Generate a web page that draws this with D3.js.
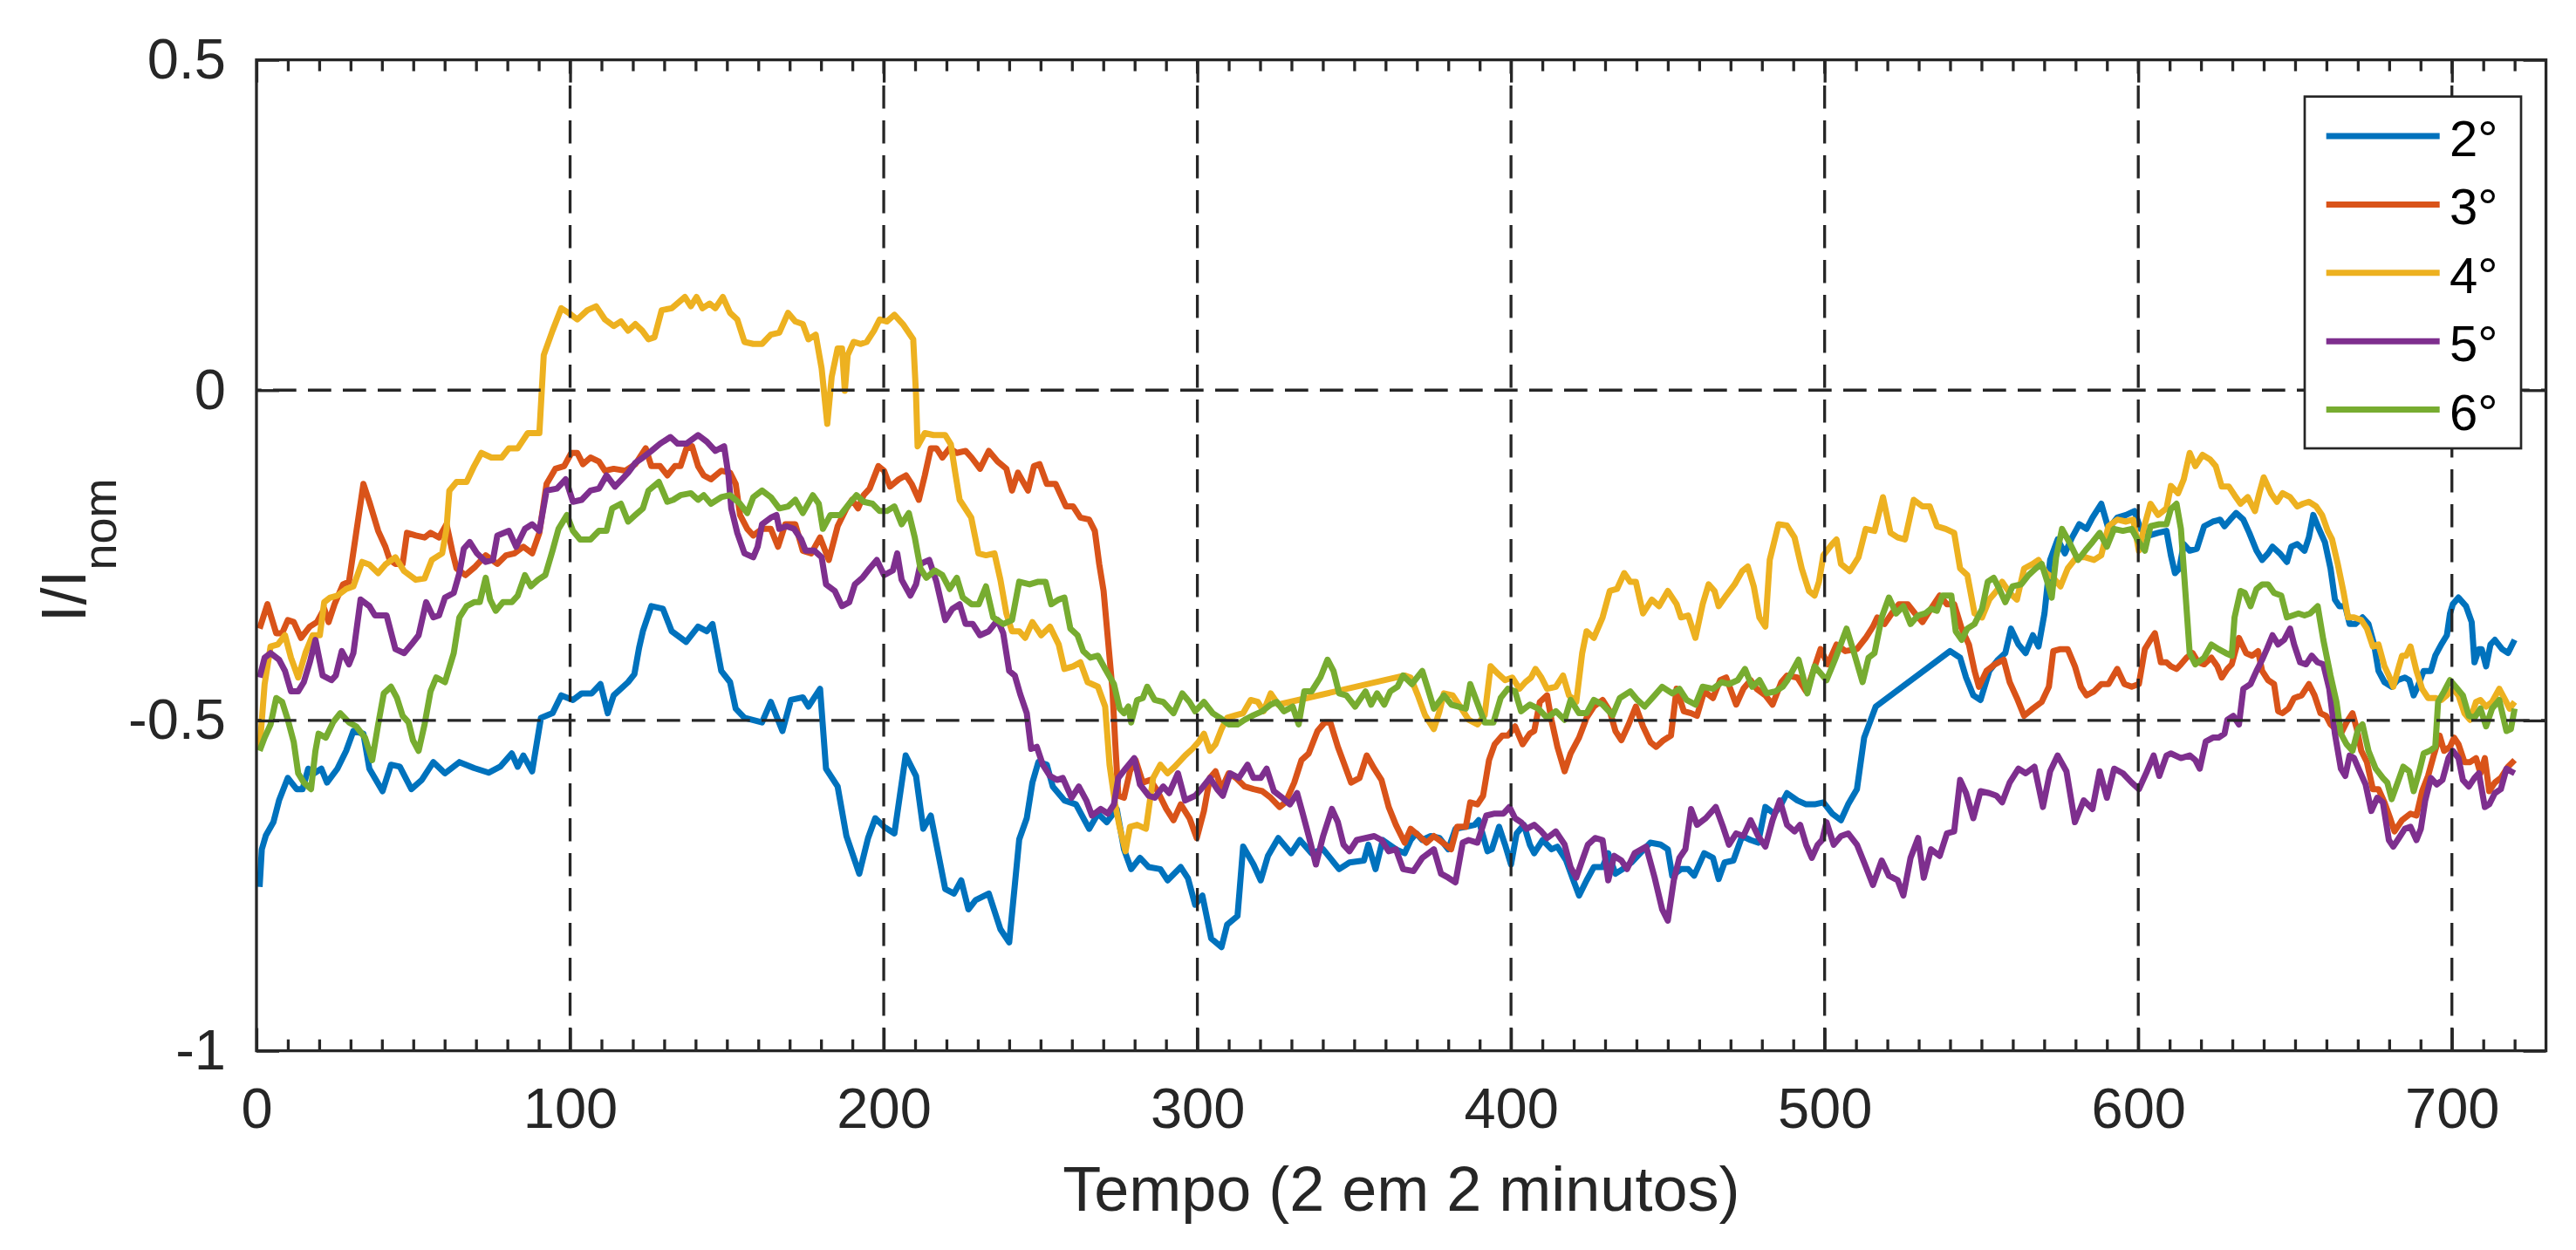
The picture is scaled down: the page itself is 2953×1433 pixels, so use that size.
<!DOCTYPE html>
<html>
<head>
<meta charset="utf-8">
<script src="https://d3js.org/d3.v7.min.js"></script>
<style>
  body{margin:0;background:#fff}
  text{font-family:'Liberation Sans',Arial,Helvetica,sans-serif}
</style>
</head>
<body>
<script>
// values, [tempo, I/Inom]
const serie2 = [[1,-0.752],[1.7,-0.695],[3,-0.674],[5.4,-0.654],[7.2,-0.621],[10,-0.587],[12.8,-0.604],[14.7,-0.604],[16.5,-0.573],[18.4,-0.58],[20.7,-0.573],[22.5,-0.594],[25.8,-0.573],[28.6,-0.546],[30.9,-0.516],[34.1,-0.52],[36,-0.573],[40.2,-0.607],[42.9,-0.567],[45.7,-0.57],[49.4,-0.604],[52.7,-0.59],[56.4,-0.563],[60.1,-0.58],[64.7,-0.563],[69.4,-0.572],[74,-0.579],[77.7,-0.57],[81.4,-0.55],[83.3,-0.57],[85.1,-0.553],[87.9,-0.577],[90.7,-0.496],[94.4,-0.489],[97.2,-0.462],[100.9,-0.469],[103.7,-0.459],[106.9,-0.459],[109.7,-0.445],[112,-0.489],[113.9,-0.462],[118.5,-0.442],[120.5,-0.43],[122,-0.39],[123.2,-0.365],[125.9,-0.327],[129.6,-0.331],[132.4,-0.365],[137,-0.381],[140.8,-0.358],[143.6,-0.365],[145.4,-0.354],[148.2,-0.425],[151,-0.442],[152.8,-0.482],[155.6,-0.496],[161.2,-0.503],[164,-0.472],[167.7,-0.516],[170.4,-0.469],[174.2,-0.465],[176,-0.479],[179.7,-0.452],[181.6,-0.573],[185.3,-0.6],[188.1,-0.675],[192.2,-0.732],[195,-0.678],[197.3,-0.648],[200.1,-0.661],[203.4,-0.671],[207,-0.553],[210.3,-0.584],[212.6,-0.664],[215,-0.644],[219.6,-0.755],[222.4,-0.762],[224.7,-0.742],[227,-0.786],[229.3,-0.772],[233.5,-0.762],[237.2,-0.816],[240,-0.836],[241.8,-0.749],[243.2,-0.68],[245.6,-0.648],[247.4,-0.594],[249.3,-0.563],[252,-0.567],[253.9,-0.6],[257.6,-0.621],[261.3,-0.627],[265.5,-0.664],[268.3,-0.641],[271.1,-0.654],[274.3,-0.634],[276.6,-0.695],[278.9,-0.725],[281.7,-0.708],[284.5,-0.722],[288.2,-0.725],[290.5,-0.742],[294.7,-0.722],[297,-0.739],[299.3,-0.779],[301.6,-0.765],[304.4,-0.83],[307.7,-0.843],[309.5,-0.809],[312.8,-0.796],[314.6,-0.691],[317.9,-0.718],[320.2,-0.742],[322.5,-0.705],[325.8,-0.678],[329.9,-0.701],[332.7,-0.681],[336.4,-0.701],[340.1,-0.695],[345.2,-0.725],[348.5,-0.715],[353.1,-0.712],[354.5,-0.688],[356.8,-0.725],[359.1,-0.681],[363.3,-0.695],[366.1,-0.701],[368,-0.681],[369.8,-0.671],[371.7,-0.681],[374.4,-0.675],[377.2,-0.678],[380,-0.695],[382.3,-0.664],[385.6,-0.661],[388.4,-0.658],[389.7,-0.651],[392.5,-0.698],[393.9,-0.695],[396.2,-0.661],[398.1,-0.688],[400,-0.718],[401.8,-0.671],[404.1,-0.658],[406,-0.688],[407.4,-0.701],[410.1,-0.681],[412.9,-0.695],[414.8,-0.691],[417.6,-0.712],[419.9,-0.742],[421.7,-0.765],[424.1,-0.742],[426.4,-0.722],[429.2,-0.722],[431,-0.701],[433.3,-0.732],[435.6,-0.725],[438.4,-0.715],[441.2,-0.701],[444.4,-0.685],[447.7,-0.688],[450,-0.695],[451.4,-0.735],[454.2,-0.725],[456.5,-0.725],[458.4,-0.735],[461.6,-0.701],[464.4,-0.708],[466.2,-0.74],[468.1,-0.715],[470.9,-0.712],[473.7,-0.675],[476.4,-0.681],[478.8,-0.685],[481.1,-0.631],[483.9,-0.641],[485.7,-0.631],[488,-0.61],[491.3,-0.621],[494.1,-0.627],[496.8,-0.627],[499.6,-0.624],[502.4,-0.641],[505.2,-0.651],[507.5,-0.627],[510.3,-0.604],[512.6,-0.526],[516.3,-0.479],[540,-0.395],[543.2,-0.405],[545.1,-0.435],[547.4,-0.462],[549.7,-0.469],[552.5,-0.425],[555.3,-0.408],[557.6,-0.398],[559.4,-0.361],[561.8,-0.385],[564.1,-0.398],[566.4,-0.371],[568.2,-0.388],[570.1,-0.338],[571.9,-0.257],[574.3,-0.226],[576.6,-0.247],[578.9,-0.223],[581.2,-0.203],[583.5,-0.21],[585.4,-0.193],[588.2,-0.172],[590.5,-0.21],[593.3,-0.193],[596.1,-0.189],[598.8,-0.183],[600.7,-0.21],[603.5,-0.22],[606.3,-0.216],[609,-0.213],[610.4,-0.25],[611.7,-0.277],[613.1,-0.27],[614.5,-0.233],[616.4,-0.243],[618.7,-0.24],[621,-0.206],[623.8,-0.199],[626.1,-0.196],[627.5,-0.206],[629.3,-0.196],[631.2,-0.186],[633.5,-0.196],[635.4,-0.216],[637.7,-0.243],[639.5,-0.257],[641.4,-0.247],[642.8,-0.237],[645.1,-0.247],[647.4,-0.26],[648.8,-0.237],[650.7,-0.233],[653,-0.243],[654.4,-0.223],[655.8,-0.189],[657.6,-0.21],[659.5,-0.23],[661.3,-0.27],[662.7,-0.317],[664.1,-0.327],[666,-0.327],[667.4,-0.354],[669.2,-0.354],[671.5,-0.344],[673.4,-0.354],[675.2,-0.385],[676.6,-0.425],[678.5,-0.442],[680.8,-0.449],[682.7,-0.439],[685,-0.435],[686.4,-0.439],[687.8,-0.462],[689.1,-0.449],[691,-0.425],[693.3,-0.425],[694.7,-0.402],[696.6,-0.385],[698.4,-0.371],[699.4,-0.338],[700.3,-0.324],[702.1,-0.314],[704.5,-0.327],[706.3,-0.351],[707.2,-0.412],[708.6,-0.392],[709.5,-0.392],[710.9,-0.418],[712.3,-0.385],[713.7,-0.378],[716,-0.392],[717.9,-0.398],[720,-0.378]]

const serie3 = [[1,-0.361],[3.5,-0.324],[6.3,-0.368],[8.2,-0.368],[10,-0.348],[11.9,-0.351],[14.2,-0.375],[17,-0.358],[19.3,-0.351],[21.6,-0.331],[23,-0.351],[24.9,-0.324],[27.6,-0.294],[29.5,-0.29],[31.8,-0.216],[34.1,-0.142],[36,-0.169],[38.8,-0.213],[41.1,-0.237],[42.5,-0.257],[44.3,-0.263],[46.6,-0.263],[48,-0.216],[50.8,-0.22],[53.6,-0.223],[55.5,-0.216],[58.2,-0.223],[60.6,-0.203],[62.4,-0.243],[63.8,-0.27],[66.6,-0.28],[69.8,-0.267],[73.1,-0.25],[76.8,-0.263],[79.6,-0.25],[82.3,-0.247],[85.1,-0.237],[87.9,-0.247],[90.2,-0.216],[92.5,-0.142],[95.3,-0.119],[98.1,-0.115],[100.4,-0.095],[102.3,-0.095],[104.1,-0.112],[106.5,-0.102],[109.2,-0.108],[111.1,-0.122],[113.9,-0.119],[117.6,-0.122],[120.8,-0.112],[124.1,-0.088],[125.9,-0.115],[128.7,-0.115],[131,-0.129],[133.4,-0.115],[135.2,-0.115],[137.1,-0.088],[138.9,-0.085],[140.8,-0.115],[142.6,-0.129],[144.9,-0.135],[148.2,-0.122],[151,-0.125],[152.8,-0.142],[154.2,-0.189],[156.5,-0.21],[158.4,-0.22],[161.2,-0.21],[164,-0.21],[166.3,-0.237],[168.6,-0.203],[171.8,-0.203],[174.2,-0.243],[176.9,-0.247],[179.7,-0.223],[182.5,-0.257],[185.3,-0.206],[188.1,-0.179],[189.9,-0.166],[191.8,-0.179],[193.6,-0.159],[195.5,-0.149],[198.3,-0.115],[200.1,-0.122],[202,-0.146],[204.8,-0.135],[207.1,-0.129],[208.9,-0.142],[211.2,-0.166],[213.1,-0.129],[215,-0.088],[216.8,-0.088],[218.7,-0.102],[221,-0.088],[223.3,-0.095],[226.1,-0.092],[228,-0.102],[230.7,-0.119],[233.5,-0.092],[236.3,-0.108],[239.1,-0.119],[240.9,-0.152],[242.8,-0.125],[246,-0.152],[247.9,-0.115],[249.7,-0.112],[252,-0.142],[254.8,-0.142],[258.1,-0.176],[260.4,-0.176],[262.7,-0.193],[265.5,-0.196],[267.3,-0.213],[268.7,-0.263],[270.1,-0.304],[271.5,-0.378],[272.9,-0.452],[273.8,-0.533],[274.8,-0.614],[276.6,-0.617],[278.5,-0.577],[280.3,-0.56],[282.6,-0.594],[285,-0.59],[287.3,-0.607],[290.1,-0.634],[292.4,-0.651],[294.7,-0.627],[297.5,-0.648],[299.8,-0.678],[302.1,-0.637],[304,-0.587],[305.8,-0.577],[307.7,-0.604],[310,-0.58],[312.3,-0.587],[315.1,-0.6],[317.9,-0.604],[320.7,-0.607],[323.4,-0.617],[326.2,-0.631],[328.1,-0.624],[330.9,-0.594],[333.2,-0.56],[335.5,-0.55],[338.3,-0.516],[340.6,-0.503],[342.4,-0.503],[344.8,-0.54],[346.6,-0.563],[349,-0.594],[351.7,-0.587],[354,-0.553],[356.4,-0.573],[358.7,-0.59],[361,-0.631],[363.3,-0.658],[366.1,-0.685],[368,-0.664],[370.7,-0.675],[373.1,-0.685],[375.4,-0.675],[378.2,-0.685],[380.9,-0.695],[382.8,-0.661],[385.6,-0.661],[387,-0.624],[389.3,-0.627],[391.1,-0.614],[393,-0.56],[394.8,-0.536],[397.2,-0.523],[399,-0.523],[401.3,-0.509],[403.7,-0.536],[406,-0.52],[407.4,-0.516],[409.2,-0.472],[411.5,-0.462],[412.9,-0.499],[414.8,-0.54],[417.1,-0.577],[419,-0.55],[421.7,-0.526],[424.1,-0.496],[426.4,-0.479],[429.2,-0.469],[431.5,-0.486],[433.3,-0.516],[435.2,-0.53],[437.5,-0.506],[439.8,-0.479],[442.1,-0.509],[444.5,-0.533],[446.3,-0.54],[448.6,-0.53],[451,-0.523],[452.8,-0.452],[455.1,-0.486],[457.4,-0.489],[459.3,-0.493],[461.6,-0.456],[464.4,-0.466],[466.7,-0.439],[468.6,-0.435],[471.8,-0.476],[474.1,-0.452],[476.4,-0.439],[478.3,-0.452],[481.1,-0.462],[483.4,-0.476],[486.2,-0.442],[488,-0.432],[491.3,-0.435],[494.1,-0.456],[495.9,-0.432],[498.7,-0.392],[501,-0.415],[503.8,-0.385],[506.6,-0.395],[510.3,-0.392],[513.1,-0.375],[515.4,-0.358],[516.8,-0.344],[519.1,-0.354],[521.4,-0.338],[523.7,-0.324],[526.5,-0.324],[528.8,-0.338],[531.2,-0.351],[533.9,-0.331],[536.7,-0.311],[539,-0.324],[541.3,-0.324],[543.7,-0.361],[546,-0.385],[547.8,-0.425],[549.2,-0.449],[551.6,-0.425],[554.3,-0.415],[557.1,-0.408],[559,-0.442],[561.3,-0.466],[563.6,-0.493],[566.4,-0.482],[569.2,-0.472],[571.5,-0.449],[572.9,-0.395],[575.2,-0.392],[577.5,-0.392],[579.8,-0.418],[581.7,-0.449],[583.5,-0.462],[585.9,-0.456],[588.2,-0.445],[590.5,-0.445],[593.3,-0.422],[595.6,-0.445],[597.9,-0.449],[600.2,-0.445],[602.1,-0.392],[603.9,-0.378],[605.3,-0.368],[607.2,-0.412],[609,-0.412],[610.4,-0.418],[612.2,-0.422],[613.6,-0.415],[615.4,-0.405],[617.3,-0.398],[619.1,-0.412],[621,-0.415],[623.3,-0.405],[625.2,-0.418],[626.6,-0.435],[628.4,-0.422],[629.8,-0.415],[632.1,-0.375],[634.4,-0.398],[636.3,-0.402],[638.2,-0.395],[639.5,-0.425],[641.4,-0.439],[643.3,-0.445],[644.6,-0.486],[646,-0.489],[647.9,-0.482],[649.7,-0.466],[652.1,-0.462],[654.4,-0.445],[656.2,-0.462],[658.1,-0.489],[659.9,-0.493],[661.3,-0.506],[664.6,-0.52],[666.4,-0.503],[668.3,-0.489],[669.7,-0.513],[671.1,-0.546],[672.9,-0.563],[674.8,-0.604],[676.6,-0.604],[678.5,-0.624],[680.3,-0.648],[681.7,-0.668],[684.1,-0.651],[686.8,-0.641],[688.7,-0.644],[690.5,-0.607],[692.4,-0.584],[694.2,-0.553],[696.1,-0.523],[697.5,-0.546],[699.4,-0.54],[700.7,-0.526],[702.1,-0.536],[704,-0.563],[705.8,-0.563],[707.7,-0.557],[709.1,-0.58],[710.5,-0.557],[711.9,-0.607],[713.7,-0.594],[715.6,-0.587],[717.9,-0.57],[720,-0.56]]

const serie4 = [[1,-0.543],[2.6,-0.445],[4.5,-0.388],[6.8,-0.385],[9.1,-0.371],[11,-0.405],[13.3,-0.435],[15.6,-0.398],[17.9,-0.371],[20.2,-0.371],[21.6,-0.321],[23.5,-0.314],[25.8,-0.311],[28.6,-0.301],[30.9,-0.297],[33.7,-0.26],[36,-0.264],[38.8,-0.277],[41.1,-0.264],[44.3,-0.253],[47.1,-0.274],[50.8,-0.287],[53.6,-0.285],[55.9,-0.257],[59.2,-0.247],[60.6,-0.21],[61.5,-0.152],[63.8,-0.139],[67,-0.139],[69.4,-0.115],[71.7,-0.095],[74.9,-0.102],[78.2,-0.102],[80.5,-0.088],[83.3,-0.088],[86.5,-0.065],[90.2,-0.065],[91.6,0.053],[94.4,0.09],[97.2,0.124],[99.5,0.117],[102.3,0.107],[105.5,0.121],[108.3,0.127],[111.1,0.107],[113.9,0.097],[116.2,0.104],[118.5,0.09],[120.8,0.1],[123,0.09],[125,0.077],[126.9,0.08],[129.2,0.121],[132.4,0.124],[136.6,0.141],[138.5,0.127],[140.3,0.141],[142.2,0.124],[144.5,0.131],[146.3,0.124],[148.7,0.141],[151,0.117],[153.3,0.107],[155.6,0.073],[158.4,0.07],[161.2,0.07],[164,0.084],[166.7,0.087],[169.5,0.117],[171.8,0.104],[174.2,0.1],[176,0.077],[178.3,0.084],[180.2,0.033],[182,-0.051],[183.4,0.02],[185.3,0.063],[186.7,0.063],[187.6,-0.001],[188.5,0.053],[190.4,0.073],[192.7,0.07],[194.6,0.073],[196.9,0.09],[198.7,0.107],[201,0.104],[203.4,0.114],[206.1,0.1],[209.4,0.077],[210.3,-0.007],[210.8,-0.085],[213.1,-0.065],[215.9,-0.068],[219.6,-0.068],[221.4,-0.082],[222.8,-0.125],[224.2,-0.166],[227.9,-0.193],[230.2,-0.247],[232.6,-0.25],[235.3,-0.247],[237.2,-0.287],[239.1,-0.338],[240.9,-0.365],[243.2,-0.365],[245.1,-0.375],[247.4,-0.351],[250.2,-0.371],[253,-0.358],[255.8,-0.385],[257.6,-0.422],[260.4,-0.418],[262.7,-0.412],[265,-0.442],[268.3,-0.449],[270.6,-0.479],[272,-0.567],[273.8,-0.627],[275.2,-0.661],[277.1,-0.698],[278.5,-0.661],[280.8,-0.658],[283.6,-0.664],[285.9,-0.587],[288.2,-0.567],[290.5,-0.58],[292.8,-0.57],[296.1,-0.553],[298.4,-0.543],[300.3,-0.533],[302.1,-0.52],[304,-0.546],[305.8,-0.536],[307.7,-0.513],[309.5,-0.496],[312.3,-0.492],[314.6,-0.489],[317,-0.469],[319.3,-0.472],[321.1,-0.486],[323.4,-0.459],[325.8,-0.476],[366.1,-0.432],[368,-0.435],[370.3,-0.462],[372.6,-0.492],[375.4,-0.513],[377.2,-0.486],[378.6,-0.459],[381.4,-0.462],[384.2,-0.482],[386.5,-0.499],[389.3,-0.506],[391.6,-0.492],[393.5,-0.418],[395.8,-0.429],[398.1,-0.439],[400.4,-0.435],[402.7,-0.452],[404.6,-0.442],[406.4,-0.435],[407.8,-0.422],[409.7,-0.435],[411.5,-0.452],[414.3,-0.449],[416.6,-0.432],[418.5,-0.462],[420.8,-0.472],[422.7,-0.398],[424.1,-0.365],[426.4,-0.375],[429.2,-0.344],[431.5,-0.304],[433.8,-0.301],[436.1,-0.277],[438,-0.29],[439.8,-0.29],[442.1,-0.338],[444.9,-0.317],[447.2,-0.327],[450,-0.304],[452.8,-0.324],[454.2,-0.344],[456.5,-0.341],[458.8,-0.375],[461.1,-0.324],[463,-0.294],[464.9,-0.304],[466.2,-0.327],[468.6,-0.311],[471.3,-0.294],[473.7,-0.274],[475.5,-0.267],[477.4,-0.297],[479.2,-0.344],[481.1,-0.358],[482.5,-0.257],[485.3,-0.203],[488,-0.205],[490.4,-0.223],[492.7,-0.27],[495,-0.304],[496.8,-0.311],[498.2,-0.29],[499.6,-0.25],[502.4,-0.233],[503.8,-0.226],[505.2,-0.263],[508,-0.274],[510.8,-0.253],[513.1,-0.21],[515.9,-0.213],[518.6,-0.162],[521,-0.216],[523.3,-0.223],[525.6,-0.226],[528.4,-0.166],[531.2,-0.176],[533.5,-0.176],[535.8,-0.206],[538.6,-0.21],[541.3,-0.216],[543.2,-0.27],[545.5,-0.28],[547.8,-0.338],[550.2,-0.344],[552.5,-0.317],[554.8,-0.304],[556.6,-0.29],[559,-0.307],[561.3,-0.317],[563.6,-0.27],[566.4,-0.263],[568.2,-0.257],[570.6,-0.277],[572.9,-0.284],[575.2,-0.297],[577.5,-0.27],[580.3,-0.253],[583.1,-0.253],[585.9,-0.257],[588.2,-0.25],[590.5,-0.206],[593.3,-0.196],[596.1,-0.199],[598.4,-0.196],[600.2,-0.243],[602.1,-0.203],[603.9,-0.172],[606.3,-0.189],[609,-0.179],[610.4,-0.145],[612.7,-0.156],[614.5,-0.135],[616.4,-0.095],[618.2,-0.115],[620.5,-0.098],[622.9,-0.105],[624.7,-0.115],[626.6,-0.146],[628.9,-0.146],[630.7,-0.159],[632.6,-0.172],[634.9,-0.162],[637.2,-0.183],[638.6,-0.156],[640,-0.132],[642.3,-0.156],[644.2,-0.169],[646,-0.156],[648.4,-0.162],[650.7,-0.176],[652.5,-0.172],[654.4,-0.169],[656.7,-0.176],[658.6,-0.189],[660.4,-0.213],[661.8,-0.226],[663.6,-0.263],[665.5,-0.307],[666.9,-0.344],[668.8,-0.344],[671.1,-0.348],[672.9,-0.361],[674.8,-0.388],[676.6,-0.385],[678.5,-0.418],[679.9,-0.432],[681.3,-0.449],[682.7,-0.425],[684.1,-0.402],[685.4,-0.402],[686.8,-0.388],[688.7,-0.425],[690.5,-0.452],[692.4,-0.466],[694.7,-0.466],[696.6,-0.469],[698.4,-0.462],[700.3,-0.452],[702.1,-0.462],[704,-0.489],[705.8,-0.499],[707.7,-0.472],[709.1,-0.469],[710.9,-0.479],[712.8,-0.472],[715.1,-0.452],[717,-0.469],[718.4,-0.482],[720,-0.472]]

const serie5 = [[1,-0.435],[2.6,-0.405],[4.5,-0.398],[7.2,-0.408],[9.1,-0.425],[11,-0.456],[13.3,-0.456],[15.1,-0.442],[17,-0.412],[18.8,-0.378],[21.1,-0.432],[23.9,-0.439],[25.3,-0.432],[27.2,-0.395],[29.5,-0.415],[30.9,-0.398],[33.2,-0.317],[36,-0.327],[37.8,-0.341],[41.5,-0.341],[44.3,-0.392],[47.1,-0.398],[49.4,-0.385],[51.7,-0.371],[54.1,-0.321],[56.4,-0.344],[58.2,-0.341],[60.1,-0.314],[62.9,-0.307],[64.7,-0.277],[66.1,-0.24],[68,-0.23],[70.3,-0.247],[73.1,-0.26],[75.4,-0.257],[76.8,-0.22],[80.5,-0.213],[82.8,-0.237],[85.6,-0.21],[87.9,-0.203],[90.2,-0.213],[92.5,-0.152],[95.8,-0.149],[98.6,-0.135],[100.9,-0.169],[103.7,-0.166],[106.5,-0.152],[109.2,-0.149],[111.6,-0.129],[114.3,-0.146],[118.5,-0.125],[120.8,-0.11],[123.2,-0.102],[125.9,-0.092],[128.7,-0.081],[132,-0.071],[134.3,-0.081],[137.1,-0.081],[140.8,-0.068],[143.6,-0.078],[146.3,-0.092],[149.1,-0.085],[150.5,-0.129],[151.4,-0.179],[153.3,-0.216],[155.6,-0.247],[158.4,-0.253],[159.8,-0.237],[161.2,-0.203],[164,-0.193],[165.8,-0.189],[166.7,-0.21],[169,-0.206],[171.4,-0.21],[173.7,-0.226],[175.1,-0.243],[177.9,-0.243],[180.2,-0.253],[181.6,-0.294],[184.4,-0.304],[186.7,-0.327],[189,-0.321],[190.8,-0.294],[193.2,-0.284],[195.5,-0.27],[197.8,-0.257],[200.1,-0.28],[202.9,-0.273],[204.3,-0.247],[205.7,-0.287],[208.5,-0.311],[210.3,-0.294],[211.7,-0.263],[214.5,-0.257],[216.8,-0.29],[219.6,-0.348],[221.9,-0.331],[224.2,-0.324],[226.1,-0.354],[228.4,-0.354],[230.7,-0.371],[233.5,-0.365],[236.3,-0.348],[238.1,-0.368],[240,-0.425],[241.8,-0.432],[243.5,-0.46],[245.6,-0.489],[247,-0.543],[248.8,-0.54],[250.7,-0.567],[253,-0.584],[255.3,-0.59],[257.1,-0.587],[259.9,-0.617],[262.2,-0.6],[264.6,-0.621],[266.4,-0.644],[269.2,-0.634],[271.5,-0.641],[273.4,-0.627],[274.8,-0.587],[277.1,-0.573],[279.9,-0.557],[281.7,-0.597],[284.5,-0.614],[286.4,-0.617],[289.1,-0.6],[291,-0.61],[293.8,-0.58],[296.1,-0.621],[299.3,-0.614],[301.2,-0.604],[304,-0.587],[306.3,-0.604],[308.1,-0.614],[310.5,-0.58],[313.2,-0.587],[316,-0.567],[317.9,-0.587],[320.2,-0.587],[322.1,-0.573],[324.4,-0.607],[327.1,-0.617],[329.5,-0.627],[331.8,-0.61],[333.6,-0.641],[335.5,-0.675],[337.8,-0.718],[340.1,-0.675],[342.9,-0.634],[344.8,-0.654],[346.6,-0.688],[348.5,-0.698],[350.8,-0.681],[353.6,-0.678],[356.4,-0.675],[358.7,-0.681],[361,-0.698],[363.3,-0.695],[365.6,-0.725],[368.9,-0.728],[371.7,-0.708],[375.4,-0.695],[377.7,-0.732],[380,-0.738],[382.3,-0.745],[384.6,-0.685],[386.5,-0.681],[389.3,-0.685],[392.1,-0.644],[394.8,-0.641],[397.6,-0.641],[399.5,-0.631],[401.3,-0.648],[403.2,-0.654],[405,-0.664],[407.4,-0.658],[409.7,-0.668],[411.5,-0.678],[414.3,-0.668],[417.1,-0.688],[419,-0.722],[420.8,-0.738],[422.7,-0.712],[424.5,-0.688],[426.8,-0.678],[429.2,-0.681],[431,-0.742],[432.9,-0.705],[435.2,-0.712],[437,-0.725],[439.4,-0.701],[443.1,-0.691],[445.8,-0.738],[448.2,-0.786],[450,-0.803],[451.9,-0.742],[453.7,-0.708],[455.6,-0.695],[457.4,-0.634],[459.3,-0.658],[462.1,-0.648],[465.3,-0.631],[467.6,-0.661],[469.5,-0.688],[471.8,-0.671],[474.1,-0.675],[476.4,-0.651],[478.8,-0.675],[481.1,-0.691],[483.4,-0.651],[485.7,-0.621],[488,-0.658],[490.4,-0.668],[492.2,-0.658],[494.1,-0.688],[495.9,-0.708],[497.8,-0.688],[499.2,-0.681],[500.6,-0.654],[502.9,-0.688],[505.2,-0.675],[507.5,-0.671],[510.3,-0.688],[512.6,-0.715],[515.4,-0.749],[518.2,-0.712],[520.5,-0.735],[523.3,-0.742],[525.1,-0.765],[527.4,-0.708],[529.8,-0.678],[531.6,-0.738],[533.9,-0.695],[536.7,-0.705],[539,-0.671],[541.3,-0.668],[543.2,-0.59],[545.1,-0.61],[547.4,-0.648],[549.7,-0.607],[552.5,-0.61],[554.8,-0.614],[556.6,-0.624],[559,-0.594],[561.8,-0.573],[564.1,-0.58],[566.9,-0.57],[569.6,-0.631],[571.9,-0.577],[574.3,-0.553],[577.1,-0.577],[579.8,-0.654],[582.6,-0.621],[585.4,-0.634],[587.7,-0.577],[590,-0.617],[592.3,-0.573],[595.1,-0.58],[597.9,-0.594],[600.2,-0.604],[602.5,-0.58],[604.9,-0.553],[606.7,-0.584],[609,-0.553],[610.4,-0.55],[613.6,-0.557],[616.4,-0.553],[618.2,-0.56],[619.6,-0.573],[621.5,-0.532],[623.8,-0.526],[625.6,-0.526],[627.5,-0.52],[628.4,-0.499],[630.3,-0.493],[632.1,-0.506],[633.5,-0.452],[635.8,-0.445],[637.7,-0.425],[639.5,-0.408],[641,-0.392],[642.8,-0.371],[644.6,-0.385],[646.5,-0.378],[648.4,-0.361],[649.7,-0.385],[651.6,-0.412],[653.5,-0.415],[655.3,-0.402],[657.2,-0.412],[659,-0.415],[660.9,-0.452],[662.7,-0.52],[664.6,-0.573],[666,-0.584],[667.4,-0.553],[668.8,-0.557],[670.6,-0.577],[672.5,-0.597],[674.3,-0.637],[676.2,-0.617],[678,-0.624],[679.9,-0.681],[681.3,-0.691],[683.1,-0.678],[685,-0.664],[686.8,-0.661],[688.7,-0.681],[690.1,-0.664],[691.5,-0.621],[693.3,-0.587],[695.2,-0.597],[697,-0.59],[698.9,-0.557],[700.3,-0.546],[702.1,-0.557],[703.5,-0.59],[705.4,-0.6],[707.2,-0.587],[708.6,-0.58],[710.5,-0.631],[711.9,-0.627],[713.7,-0.61],[715.6,-0.604],[717.4,-0.573],[718.8,-0.577],[720,-0.58]]

const serie6 = [[1,-0.546],[2.6,-0.526],[4.5,-0.506],[6.3,-0.466],[8.2,-0.472],[10,-0.499],[11.9,-0.533],[13.3,-0.58],[15.1,-0.594],[17.4,-0.604],[18.8,-0.546],[19.8,-0.52],[22.1,-0.526],[24.4,-0.503],[26.7,-0.489],[29.5,-0.503],[31.8,-0.509],[34.6,-0.526],[36.9,-0.56],[38.8,-0.506],[40.6,-0.459],[42.9,-0.449],[44.8,-0.466],[46.6,-0.493],[48.5,-0.503],[49.9,-0.53],[51.7,-0.546],[53.6,-0.506],[55.5,-0.456],[57.3,-0.435],[60.1,-0.442],[62.9,-0.398],[64.7,-0.344],[67,-0.327],[69.4,-0.321],[71.2,-0.321],[73.1,-0.284],[74.5,-0.317],[76.3,-0.334],[78.6,-0.321],[81.4,-0.321],[83.3,-0.311],[85.6,-0.28],[87.5,-0.297],[89.8,-0.287],[92.1,-0.28],[94.4,-0.243],[96.3,-0.21],[99,-0.189],[100.9,-0.213],[103.2,-0.226],[106.5,-0.226],[109.2,-0.213],[111.6,-0.213],[113.4,-0.179],[116.2,-0.172],[118.5,-0.199],[120.8,-0.189],[123.2,-0.179],[125,-0.152],[128.3,-0.139],[131,-0.169],[132.9,-0.166],[135.2,-0.159],[138.5,-0.156],[140.8,-0.166],[142.6,-0.159],[144.9,-0.172],[148.2,-0.162],[151,-0.159],[154.2,-0.172],[156.5,-0.186],[158.4,-0.162],[161.2,-0.152],[164,-0.162],[166.7,-0.179],[169.5,-0.176],[171.8,-0.166],[174.2,-0.186],[177.4,-0.159],[179.3,-0.172],[180.6,-0.21],[183,-0.189],[186.2,-0.189],[189,-0.172],[191.3,-0.159],[193.6,-0.169],[196.4,-0.172],[198.7,-0.183],[201,-0.183],[203.4,-0.176],[205.7,-0.203],[208,-0.186],[209.9,-0.223],[211.7,-0.27],[213.6,-0.284],[216.3,-0.273],[218.7,-0.28],[221,-0.301],[223.3,-0.284],[225.2,-0.314],[228,-0.324],[230.3,-0.324],[232.6,-0.297],[234.9,-0.344],[238.1,-0.354],[240.9,-0.348],[243.2,-0.29],[246.5,-0.294],[249.3,-0.29],[251.6,-0.29],[253.4,-0.324],[255.8,-0.317],[257.6,-0.314],[259.5,-0.361],[261.8,-0.371],[263.6,-0.395],[265.9,-0.405],[268.3,-0.402],[270.6,-0.422],[273.4,-0.445],[275.2,-0.482],[276.6,-0.489],[278,-0.479],[278.9,-0.503],[280.8,-0.469],[282.6,-0.466],[284,-0.449],[286.4,-0.469],[289.1,-0.472],[292.4,-0.489],[295.2,-0.459],[297.5,-0.472],[299.3,-0.486],[302.1,-0.472],[304.9,-0.489],[307.2,-0.496],[310,-0.506],[312.8,-0.506],[315.1,-0.499],[317.9,-0.492],[320.7,-0.486],[323.4,-0.476],[325.3,-0.472],[327.6,-0.486],[330.4,-0.479],[332.3,-0.506],[334.1,-0.456],[336.4,-0.456],[339.2,-0.435],[341.5,-0.408],[343.4,-0.425],[345.2,-0.459],[347.5,-0.462],[350.3,-0.479],[353.6,-0.456],[355.4,-0.476],[357.3,-0.459],[359.6,-0.476],[361.5,-0.456],[363.8,-0.449],[365.6,-0.432],[368.4,-0.445],[371.7,-0.425],[373.5,-0.452],[375.4,-0.482],[378.6,-0.462],[381,-0.476],[383.3,-0.479],[385.6,-0.482],[387,-0.445],[389.7,-0.479],[391.6,-0.503],[394.4,-0.503],[396.7,-0.466],[399,-0.452],[401.3,-0.456],[403.2,-0.486],[406,-0.476],[408.7,-0.482],[411.5,-0.496],[414.3,-0.486],[417.1,-0.499],[419,-0.469],[421.7,-0.489],[424.1,-0.489],[426.4,-0.469],[429.2,-0.476],[432.4,-0.492],[434.7,-0.466],[438,-0.456],[440.3,-0.469],[442.6,-0.479],[445.8,-0.462],[448.2,-0.449],[451.4,-0.459],[453.7,-0.452],[456,-0.469],[458.8,-0.476],[461.1,-0.449],[464.4,-0.452],[467.2,-0.442],[469.5,-0.445],[472.3,-0.439],[474.6,-0.422],[476.9,-0.449],[479.2,-0.439],[481.5,-0.459],[484.3,-0.456],[486.6,-0.449],[488,-0.44],[491.7,-0.408],[494.5,-0.459],[496.8,-0.418],[500.6,-0.439],[503.3,-0.408],[507,-0.361],[509.4,-0.398],[512.1,-0.442],[514,-0.405],[515.9,-0.398],[518.2,-0.344],[520.5,-0.314],[522.8,-0.338],[525.1,-0.327],[527.4,-0.354],[529.8,-0.341],[532.1,-0.338],[533.9,-0.331],[535.8,-0.334],[537.6,-0.311],[540.4,-0.311],[541.8,-0.365],[543.7,-0.378],[545.5,-0.361],[547.8,-0.354],[550.2,-0.331],[552,-0.29],[553.9,-0.284],[555.7,-0.301],[557.6,-0.321],[559.9,-0.297],[562.7,-0.294],[565,-0.28],[567.3,-0.27],[569.2,-0.263],[571,-0.29],[572.4,-0.314],[573.8,-0.253],[575.7,-0.21],[578,-0.23],[580.8,-0.257],[583.1,-0.243],[585.4,-0.23],[587.7,-0.216],[590,-0.237],[592.3,-0.21],[595.1,-0.213],[597.9,-0.21],[600.2,-0.23],[602.1,-0.243],[603.9,-0.206],[606.7,-0.203],[609,-0.203],[610.4,-0.18],[612.2,-0.172],[613.6,-0.21],[615,-0.304],[616.4,-0.398],[618.2,-0.415],[621,-0.405],[623.3,-0.385],[625.6,-0.392],[627.9,-0.398],[629.8,-0.402],[630.7,-0.344],[632.6,-0.304],[634,-0.307],[635.8,-0.327],[637.7,-0.301],[639.5,-0.294],[641.4,-0.294],[643.3,-0.307],[645.6,-0.311],[647.4,-0.344],[649.3,-0.341],[651.1,-0.338],[653,-0.341],[654.8,-0.338],[657.2,-0.327],[659,-0.378],[661.3,-0.432],[663.2,-0.472],[664.6,-0.52],[666.4,-0.536],[668.3,-0.546],[670.1,-0.513],[671.5,-0.506],[673.4,-0.546],[675.7,-0.573],[678,-0.587],[679.4,-0.594],[680.8,-0.619],[682.7,-0.594],[684.5,-0.57],[686.4,-0.577],[687.8,-0.607],[689.6,-0.577],[691,-0.55],[692.9,-0.546],[694.7,-0.54],[695.6,-0.472],[697.5,-0.456],[699.4,-0.439],[701.2,-0.449],[703.5,-0.462],[705.4,-0.493],[707.2,-0.496],[709.1,-0.482],[710.9,-0.509],[712.8,-0.482],[715.1,-0.469],[717.4,-0.516],[718.8,-0.513],[720,-0.482]]

const labels = ['2°','3°','4°','5°','6°']
const xTicks = [0,100,200,300,400,500,600,700]
const yTicks = [-1,-0.5,0,0.5]
const xMinor = d3.range(10,730,10).filter(d => d%100)

const colors = ['#0072BD','#D95319','#EDB120','#7E2F8E','#77AC30']
const ink = '#262626'
const W = 2953, H = 1433
const box = {left:294, right:2918.6, top:68.6, bottom:1204.6}

const svg = d3.select('body').append('svg').attr('width',W).attr('height',H)
svg.append('rect').attr('width',W).attr('height',H).attr('fill','#fff')

const x = d3.scaleLinear().domain([0,730]).range([box.left,box.right])
const y = d3.scaleLinear().domain([-1,0.5]).range([box.bottom,box.top])
const line = d3.line().x(d => x(d[0])).y(d => y(d[1]))

const $lines = svg.append('g').classed('lines',true)
const $grid = svg.append('g').classed('grid',true)
const $axes = svg.append('g').classed('axes',true)
const $key = svg.append('g').classed('key',true)

$lines.selectAll('path')
  .data([serie2,serie3,serie4,serie5,serie6])
  .enter().append('path')
    .attr('d',line)
    .attr('fill','none')
    .attr('stroke',(d,i) => colors[i])
    .attr('stroke-width',7)
    .attr('stroke-linejoin','round')

// dashed grid sits above the data in the figure
$grid.attr('stroke',ink).attr('stroke-width',3.3).attr('stroke-dasharray','26.7 13.3')
$grid.selectAll('line.v')
  .data(xTicks.filter(d => d>0))
  .enter().append('line').classed('v',true)
    .attr('x1',d => x(d)).attr('x2',d => x(d))
    .attr('y1',box.bottom).attr('y2',box.top)
$grid.selectAll('line.h')
  .data(yTicks.filter(d => d>-1 && d<0.5))
  .enter().append('line').classed('h',true)
    .attr('x1',box.left).attr('x2',box.right)
    .attr('y1',d => y(d)).attr('y2',d => y(d))
    .attr('stroke-dashoffset',21)

const styleAxis = g => {
  g.select('.domain').remove()
  g.selectAll('.tick line').attr('stroke',ink).attr('stroke-width',3.3)
  g.selectAll('.tick text').attr('fill',ink)
  g.attr('font-size',65).attr('font-family',null)
}
const atBottom = `translate(0,${box.bottom})`, atTop = `translate(0,${box.top})`
const atLeft = `translate(${box.left},0)`, atRight = `translate(${box.right},0)`

$axes.append('g').attr('transform',atBottom)
  .call(d3.axisBottom(x).tickValues(xTicks).tickSizeInner(-26).tickSizeOuter(0).tickPadding(42).tickFormat(d => d))
  .call(styleAxis)
$axes.append('g').attr('transform',atBottom)
  .call(d3.axisBottom(x).tickValues(xMinor).tickSizeInner(-13).tickSizeOuter(0).tickFormat(''))
  .call(styleAxis)
$axes.append('g').attr('transform',atTop)
  .call(d3.axisTop(x).tickValues(xTicks).tickSizeInner(-26).tickSizeOuter(0).tickFormat(''))
  .call(styleAxis)
$axes.append('g').attr('transform',atTop)
  .call(d3.axisTop(x).tickValues(xMinor).tickSizeInner(-13).tickSizeOuter(0).tickFormat(''))
  .call(styleAxis)
$axes.append('g').attr('transform',atLeft)
  .call(d3.axisLeft(y).tickValues(yTicks).tickSizeInner(-26).tickSizeOuter(0).tickPadding(35).tickFormat(d => d))
  .call(styleAxis)
$axes.append('g').attr('transform',atRight)
  .call(d3.axisRight(y).tickValues(yTicks).tickSizeInner(-26).tickSizeOuter(0).tickFormat(''))
  .call(styleAxis)

$axes.append('rect')
  .attr('x',box.left).attr('y',box.top)
  .attr('width',box.right-box.left).attr('height',box.bottom-box.top)
  .attr('fill','none').attr('stroke',ink).attr('stroke-width',3.3)

$axes.append('text')
  .attr('x',(box.left+box.right)/2).attr('y',1388)
  .attr('text-anchor','middle').attr('font-size',72).attr('fill',ink)
  .text('Tempo (2 em 2 minutos)')

const ylab = $axes.append('text')
  .attr('transform','translate(98,631) rotate(-90)')
  .attr('text-anchor','middle').attr('font-size',72).attr('fill',ink)
ylab.append('tspan').text('I/I')
ylab.append('tspan').attr('font-size',54).attr('dy',35).text('nom')

// legend
$key.append('rect')
  .attr('x',2642).attr('y',110.7).attr('width',248).attr('height',403.3)
  .attr('fill','#fff').attr('stroke',ink).attr('stroke-width',2.7)
const rows = $key.selectAll('g.row')
  .data(labels)
  .enter().append('g').classed('row',true)
    .attr('transform',(d,i) => `translate(0,${156+i*78.4})`)
rows.append('line')
  .attr('x1',2666.7).attr('x2',2796.7)
  .attr('stroke',(d,i) => colors[i]).attr('stroke-width',7)
rows.append('text')
  .attr('x',2808).attr('y',23)
  .attr('font-size',58).attr('fill','#000')
  .text(d => d)
</script>
</body>
</html>
